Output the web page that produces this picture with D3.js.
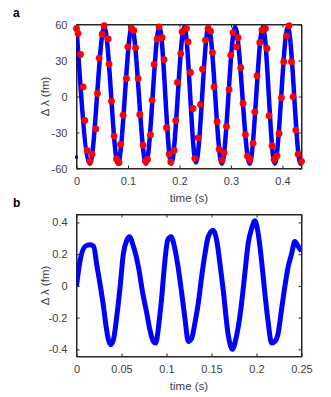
<!DOCTYPE html>
<html>
<head>
<meta charset="utf-8">
<script src="https://cdn.jsdelivr.net/npm/d3@7"></script>
<style>
  body { margin: 0; background: #fff; }
  text { font-family: "Liberation Sans", Arial, sans-serif; }
</style>
</head>
<body>
<div id="chart"></div>
<script>
// panel a : blue trace, key points (peaks / troughs)
var blueT = [0, 0.026, 0.054, 0.0805, 0.1075, 0.135, 0.161, 0.184, 0.2095, 0.232, 0.2565, 0.2823, 0.308, 0.3363, 0.362, 0.385, 0.4105, 0.435, 0.437];
var blueV = [58, -56, 58, -56, 58, -56, 58, -56, 58, -55, 58, -56, 58, -56, 58, -56, 58, -56, -55.5];
var blueOutT = [0];
var blueOutV = [-50.5];
// panel a : red samples
var redT = [0, 0.003, 0.0078, 0.0129, 0.016, 0.0206, 0.0258, 0.0303, 0.0375, 0.0407, 0.0439, 0.0498, 0.0536, 0.0614, 0.0633, 0.068, 0.073, 0.0777, 0.0827, 0.0854, 0.0905, 0.097, 0.0996,
  0.1068, 0.1113, 0.1146, 0.1196, 0.1229, 0.1293, 0.134, 0.1379, 0.1437, 0.1469, 0.1507, 0.1565, 0.1604, 0.1663, 0.1701, 0.1748, 0.1798, 0.1831, 0.1896, 0.1928, 0.1961, 0.2025, 0.205,
  0.2136, 0.2167, 0.2214, 0.2264, 0.2297, 0.2361, 0.2408, 0.2447, 0.2505, 0.2555, 0.2602, 0.2641, 0.2672, 0.273, 0.2769, 0.2827, 0.2866, 0.2912, 0.2963, 0.2996, 0.3041, 0.3107, 0.3138,
  0.319, 0.3235, 0.3281, 0.332, 0.3365, 0.343, 0.3462, 0.3507, 0.3559, 0.3604, 0.367, 0.3701, 0.374, 0.3798, 0.3837, 0.3895, 0.3934, 0.398, 0.4025, 0.4078, 0.4128, 0.4175, 0.4206,
  0.4258, 0.4303, 0.437];
var redV = [56.7, 52.5, 35, 8, -20, -45, -54, -48, -27, 2.5, 32, 52, 59, 48, 27, -4, -33, -52, -55, -40, -15.5, 15, 41.4,
  56.7, 55, 40.6, 15, -15, -40.5, -54, -52.5, -32, -3, 26.7, 48, 58, 49, 30.8, -26, -48, -54.5, -45, -20, 11.7, 35.8, 54,
  56.7, 45.6, 20, -10, -51.7, -34.4, -6.7, 22.8, 47, 56.7, 54.4, 36.7, 8, -21, -44, -53, -47, -25, 5.8, 34.4, 53.3, 41.4, 49,
  24, -5.8, -31.7, -49.7, -52.5, -39, -12.8, 17.2, 45, 55.3, 56.7, 40, -16, -41, -52.5, -49.4, -30.8, -1, 29, 50.6, 59, 29, -0.3,
  -28, -48, -54];

// panel b : blue trace
var bT = [0, 0.004, 0.0097, 0.0152, 0.019, 0.0226, 0.0263, 0.030, 0.033, 0.0355, 0.038, 0.041, 0.0448, 0.0485, 0.052, 0.056, 0.0588, 0.0632, 0.0688, 0.0736, 0.078,
  0.0817, 0.0854, 0.088, 0.0917, 0.0947, 0.0976, 0.1014, 0.105, 0.1087, 0.1131, 0.1169, 0.1206, 0.1242, 0.128, 0.1317, 0.1353, 0.1391, 0.1427, 0.1464, 0.152, 0.1557, 0.1594, 0.163,
  0.1686, 0.1735, 0.176, 0.1797, 0.1834, 0.1871, 0.1908, 0.1945, 0.1982, 0.2019, 0.2056, 0.2093, 0.213, 0.2167, 0.2204, 0.224, 0.2278, 0.2315, 0.2352, 0.2389, 0.2426, 0.2462, 0.25];
var bV = [0, 0.16, 0.25, 0.26, 0.25, 0.13, 0.006, -0.13, -0.26, -0.34, -0.37, -0.34, -0.19, -0.004, 0.2, 0.29, 0.31, 0.25, 0.12, -0.046, -0.17,
  -0.28, -0.35, -0.36, -0.23, -0.07, 0.12, 0.29, 0.31, 0.25, 0.11, -0.046, -0.21, -0.35, -0.33, -0.23, -0.11, 0.06, 0.2, 0.31, 0.35, 0.29, 0.14, -0.025,
  -0.31, -0.40, -0.36, -0.26, -0.11, 0.08, 0.27, 0.36, 0.41, 0.33, 0.16, -0.046, -0.23, -0.36, -0.35, -0.30, -0.15, -0.004, 0.12, 0.2, 0.28, 0.25, 0.22];

var aXTicks = [0, 0.1, 0.2, 0.3, 0.4];
var aYTicks = [-60, -30, 0, 30, 60];
var bXTicks = [0, 0.05, 0.1, 0.15, 0.2, 0.25];
var bYTicks = [-0.4, -0.2, 0, 0.2, 0.4];

var W = 331, H = 397;
var svg = d3.select("#chart").append("svg").attr("width", W).attr("height", H);

var axisCol = "#262626", textCol = "#404040";

function panel(box, xd, yd, xt, yt, letter){
	var x = d3.scaleLinear().domain(xd).range([box.l, box.r]);
	var y = d3.scaleLinear().domain(yd).range([box.b, box.t]);
	var g = svg.append("g");
	// clip for the data
	var cid = "clip" + letter;
	svg.append("clipPath").attr("id", cid).append("rect")
		.attr("x", box.l).attr("y", box.t).attr("width", box.r - box.l).attr("height", box.b - box.t);
	var fmt = function(d){ return String(d); };
	// axes with inward ticks
	g.append("g").attr("transform", "translate(0," + box.b + ")")
		.call(d3.axisBottom(x).tickValues(xt).tickSizeInner(-3).tickSizeOuter(0).tickPadding(9).tickFormat(fmt));
	g.append("g").attr("transform", "translate(0," + box.t + ")")
		.call(d3.axisTop(x).tickValues(xt).tickSizeInner(-3).tickSizeOuter(0).tickFormat(""));
	g.append("g").attr("transform", "translate(" + box.l + ",0)")
		.call(d3.axisLeft(y).tickValues(yt).tickSizeInner(-3).tickSizeOuter(0).tickPadding(9).tickFormat(fmt));
	g.append("g").attr("transform", "translate(" + box.r + ",0)")
		.call(d3.axisRight(y).tickValues(yt).tickSizeInner(-3).tickSizeOuter(0).tickFormat(""));
	g.selectAll(".domain").attr("stroke", axisCol).attr("stroke-width", 1);
	g.selectAll(".tick line").attr("stroke", axisCol);
	g.selectAll(".tick text").attr("fill", textCol).style("font-size", "11px");
	// box
	g.append("rect").attr("x", box.l).attr("y", box.t).attr("width", box.r - box.l).attr("height", box.b - box.t)
		.attr("fill", "none").attr("stroke", axisCol).attr("stroke-width", 1);
	// labels
	svg.append("text").text("time (s)").attr("x", (box.l + box.r) / 2).attr("y", box.b + 33)
		.attr("text-anchor", "middle").attr("fill", textCol).style("font-size", "11.5px");
	svg.append("text").text("Δ λ (fm)")
		.attr("transform", "translate(" + (box.l - 28) + "," + ((box.t + box.b) / 2) + ") rotate(-90)")
		.attr("text-anchor", "middle").attr("fill", textCol).style("font-size", "11.5px");
	svg.append("text").text(letter).attr("x", 13).attr("y", box.t - 8)
		.attr("fill", "#000").style("font-size", "12px").style("font-weight", "bold");
	return {x: x, y: y, clip: "url(#" + cid + ")"};
}

// panel a
var pa = panel({l: 76.5, r: 301.5, t: 24.5, b: 168.5}, [0, 0.437], [-60, 60], aXTicks, aYTicks, "a");
var lineA = d3.line().x(function(d){ return pa.x(d[0]); }).y(function(d){ return pa.y(d[1]); }).curve(d3.curveMonotoneX);
svg.append("path").datum(d3.zip(blueT, blueV)).attr("d", lineA)
	.attr("fill", "none").attr("stroke", "#0000ff").attr("stroke-width", 4.5).attr("stroke-linejoin", "round")
	.attr("clip-path", pa.clip);
svg.selectAll(".bo").data(d3.zip(blueOutT, blueOutV)).enter().append("rect")
	.attr("x", function(d){ return pa.x(d[0]) - 1.5; }).attr("y", function(d){ return pa.y(d[1]) - 1.5; })
	.attr("width", 3).attr("height", 3).attr("fill", "#0000ff");
svg.selectAll(".red").data(d3.zip(redT, redV)).enter().append("circle")
	.attr("cx", function(d){ return pa.x(d[0]); }).attr("cy", function(d){ return pa.y(d[1]); })
	.attr("r", 3.4).attr("fill", "#ff0000");

// panel b
var pb = panel({l: 76.5, r: 301.5, t: 214.5, b: 356.5}, [0, 0.25], [-0.445, 0.45], bXTicks, bYTicks, "b");
var lineB = d3.line().x(function(d){ return pb.x(d[0]); }).y(function(d){ return pb.y(d[1]); }).curve(d3.curveMonotoneX);
svg.append("path").datum(d3.zip(bT, bV)).attr("d", lineB)
	.attr("fill", "none").attr("stroke", "#0000ff").attr("stroke-width", 5).attr("stroke-linejoin", "round")
	.attr("clip-path", pb.clip);
</script>
</body>
</html>
